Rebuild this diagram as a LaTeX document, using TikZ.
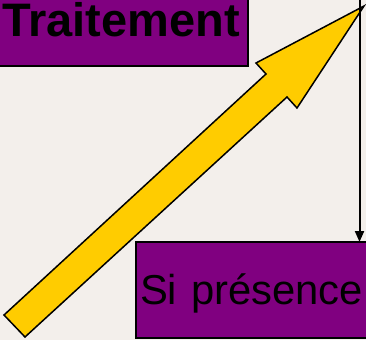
\documentclass[tikz,border=0pt]{standalone}
\usepackage{fontspec}
\setmainfont{Liberation Sans}
\usetikzlibrary{arrows.meta}
\definecolor{bgc}{RGB}{243,239,235}
\definecolor{purp}{RGB}{128,0,128}
\definecolor{yel}{RGB}{255,204,0}
\tikzset{
  pbox/.style={draw=black, line width=1.8pt, fill=purp, outer sep=0pt, inner ysep=0pt, align=left, text=black},
  bigarrow/.style={draw=black, line width=1.5pt, fill=yel, line join=miter},
  conn/.style={draw=black, line width=2pt, -{Triangle[width=9pt,length=11pt]}}
}
\begin{document}
\begin{tikzpicture}[x=1pt,y=-1pt]
\useasboundingbox (0,0) rectangle (366,340);
\fill[bgc] (0,0) rectangle (366,340);
\clip (0,0) rectangle (366,340);
\node[pbox, anchor=north west, inner xsep=4pt, text width=242pt, text height=38pt, text depth=30pt,
  font=\bfseries\fontsize{47}{47}\selectfont] (trt) at (-2,-2) {Traitement};
\node[pbox, anchor=north west, inner xsep=4pt, text width=240pt, text height=62pt, text depth=34pt,
  font=\fontsize{41.8}{41.8}\selectfont] (sip) at (136,242) {Si présence};
\draw[bigarrow] (4,315) -- (266,74) -- (256,63) -- (364,6) -- (297,108) -- (287,97) -- (25,337) -- cycle;
\coordinate (src) at (359.5,-5);
\draw[conn] (src) -- (src |- sip.north);
\end{tikzpicture}
\end{document}
